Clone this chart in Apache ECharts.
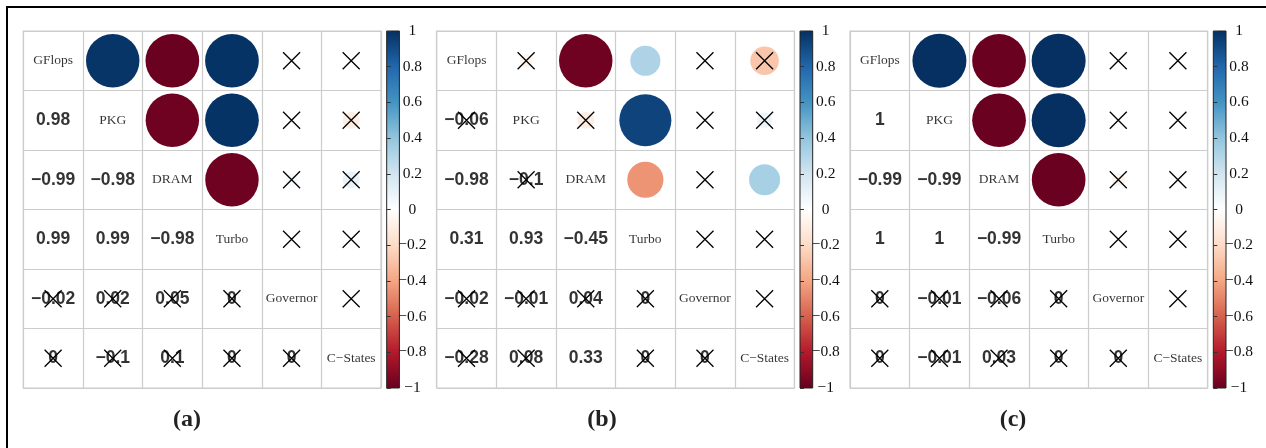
<!DOCTYPE html>
<html><head><meta charset="utf-8">
<script src="https://cdn.jsdelivr.net/npm/echarts@6/dist/echarts.min.js"></script>
<style>html,body{margin:0;padding:0;background:#fff}#c{width:1266px;height:448px}</style>
</head><body><div id="c"></div>
<script>
const categories = ['GFlops','PKG','DRAM','Turbo','Governor','C\u2212States'];
// lower-triangle rows (row k+1, columns 0..k)
const corrA = [[0.98],[-0.99,-0.98],[0.99,0.99,-0.98],[-0.02,0.02,0.05,0],[0,-0.1,0.1,0,0]];
const insigA = [[0],[0,0],[0,0,0],[1,1,1,1],[1,1,1,1,1]];
const corrB = [[-0.06],[-0.98,-0.1],[0.31,0.93,-0.45],[-0.02,-0.01,0.04,0],[-0.28,0.08,0.33,0,0]];
const insigB = [[1],[0,1],[0,0,0],[1,1,1,1],[1,1,0,1,1]];
const corrC = [[1],[-0.99,-0.99],[1,1,-0.99],[0,-0.01,-0.06,0],[0,-0.01,0.03,0,0]];
const insigC = [[0],[0,0],[0,0,0],[1,1,1,1],[1,1,1,1,1]];
const panelLabels = ['(a)','(b)','(c)'];
const colorbarTicks = [-1,-0.8,-0.6,-0.4,-0.2,0,0.2,0.4,0.6,0.8,1];
const palette = ["#67001F","#B2182B","#D6604D","#F4A582","#FDDBC7","#FFFFFF","#D1E5F0","#92C5DE","#4393C3","#2166AC","#053061"];

const panels = [[corrA,insigA],[corrB,insigB],[corrC,insigC]];
const layout = [
  {gl:23.3, cl:386.7, lx:187},
  {gl:436.7, cl:800, lx:602},
  {gl:850, cl:1213.3, lx:1013}
];
const gTop = 31, gH = 357, gW = 357.7, cW = 12.7;
const fmt = v => String(v).replace('-', '\u2212');

const grids=[], xAxes=[], yAxes=[], series=[], circleIdx=[], graphics=[];
panels.forEach((pd, p) => {
  const [corr, insig] = pd;
  const L = layout[p];
  grids.push({left:L.gl, top:gTop, width:gW, height:gH, show:true, borderColor:'#cccccc', borderWidth:1.2, backgroundColor:'#fff'});
  grids.push({left:L.cl, top:gTop, width:cW, height:gH, show:true, borderColor:'#222', borderWidth:1,
    backgroundColor: new echarts.graphic.LinearGradient(0,0,0,1, palette.slice().reverse().map((c,i)=>({offset:i/(palette.length-1), color:c})))});
  const catAx = (extra) => Object.assign({type:'category', data:categories, gridIndex:2*p,
    axisLine:{show:false}, axisTick:{show:false}, axisLabel:{show:false},
    splitLine:{show:true, interval:0, lineStyle:{color:'#cccccc', width:1.2}}}, extra);
  xAxes.push(catAx({}));
  xAxes.push({type:'value', gridIndex:2*p+1, show:false, min:0, max:1});
  yAxes.push(catAx({inverse:true}));
  yAxes.push({type:'value', gridIndex:2*p+1, position:'right', min:colorbarTicks[0], max:colorbarTicks[colorbarTicks.length-1], interval:0.2,
    axisLine:{show:false}, splitLine:{show:false},
    axisTick:{show:true, length:4, lineStyle:{color:'#333', width:1}},
    axisLabel:{margin:13, align:'center', fontFamily:'Liberation Serif', fontSize:15.5, color:'#111',
      formatter: v => fmt(Math.round(v*10)/10)}});

  const circles=[], nums=[], crosses=[], names=[];
  for (let r=1; r<6; r++) for (let c=0; c<r; c++) {
    const v = corr[r-1][c];
    circles.push([r, c, v]);
    nums.push([c, r, v]);
    if (insig[r-1][c]) { crosses.push([r, c]); crosses.push([c, r]); }
  }
  categories.forEach((n,i)=>names.push([i,i,n]));
  circleIdx.push(series.length);
  series.push({type:'scatter', xAxisIndex:2*p, yAxisIndex:2*p, data:circles, symbol:'circle',
    symbolSize: v => 54*Math.sqrt(Math.abs(v[2])), itemStyle:{opacity:1}, silent:true});
  series.push({type:'scatter', xAxisIndex:2*p, yAxisIndex:2*p, data:nums, symbolSize:1,
    itemStyle:{color:'transparent'}, silent:true,
    label:{show:true, position:'inside', formatter: d => fmt(d.value[2]), fontFamily:'Liberation Sans', fontWeight:'bold', fontSize:17.5, color:'#000'}});
  series.push({type:'scatter', xAxisIndex:2*p, yAxisIndex:2*p, data:names, symbolSize:1,
    itemStyle:{color:'transparent'}, silent:true,
    label:{show:true, position:'inside', formatter: d => d.value[2], fontFamily:'Liberation Serif', fontSize:13.5, color:'#000'}});
  series.push({type:'scatter', xAxisIndex:2*p, yAxisIndex:2*p, data:crosses, symbol:'path://M0,0L10,10M10,0L0,10',
    symbolSize:17, itemStyle:{color:'transparent', borderColor:'#000', borderWidth:1.3, opacity:1}, silent:true, z:5});
  graphics.push({type:'text', x:L.lx, y:420, style:{text:panelLabels[p], align:'center', verticalAlign:'middle',
    font:'bold 24px "Liberation Serif"', fill:'#222'}});
});
graphics.push({type:'line', shape:{x1:6, y1:7, x2:1266, y2:7}, style:{stroke:'#000', lineWidth:2}});
graphics.push({type:'line', shape:{x1:7, y1:6, x2:7, y2:448}, style:{stroke:'#000', lineWidth:2}});

const chart = echarts.init(document.getElementById('c'), null, {renderer:'canvas'});
chart.setOption({
  animation:false,
  grid:grids, xAxis:xAxes, yAxis:yAxes, series:series,
  visualMap:{type:'continuous', show:false, min:-1, max:1, dimension:2, seriesIndex:circleIdx, inRange:{color:palette}},
  graphic:graphics
});
</script></body></html>
